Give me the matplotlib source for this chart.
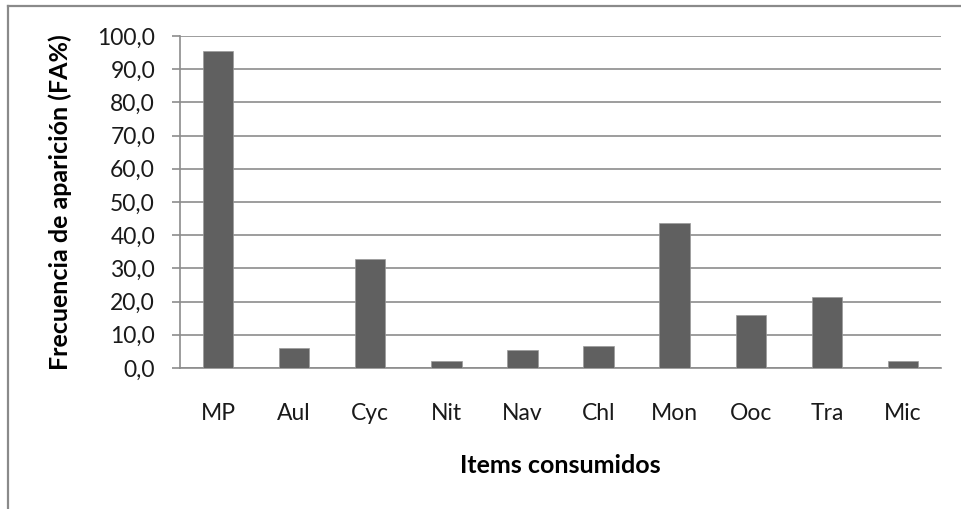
import matplotlib
matplotlib.use("Agg")
import matplotlib.pyplot as plt
from matplotlib.lines import Line2D
from matplotlib.ticker import FuncFormatter, MultipleLocator

# Frequency of occurrence of each consumed item
items = ["MP", "Aul", "Cyc", "Nit", "Nav", "Chl", "Mon", "Ooc", "Tra", "Mic"]
fa_pct = [95.5, 5.9, 32.7, 2.0, 5.5, 6.7, 43.7, 16.1, 21.5, 2.0]

plt.rcParams["font.family"] = ["Lato", "DejaVu Sans"]

W, H = 962, 509
fig = plt.figure(figsize=(W / 100, H / 100), dpi=100)
fig.patch.set_facecolor("white")

# plot area in pixel terms
left, right, top, bottom = 180, 941, 36, 368
ax = fig.add_axes([left / W, (H - bottom) / H, (right - left) / W, (bottom - top) / H])

grid_col = "#8c8c8c"
ax.bar(range(len(items)), fa_pct, width=0.4, color="#606060",
       edgecolor="#9a9a9a", linewidth=0.5, zorder=3)

ax.set_xlim(-0.5, len(items) - 0.5)
ax.set_ylim(0, 100)
ax.yaxis.set_major_locator(MultipleLocator(10))
ax.yaxis.set_major_formatter(FuncFormatter(lambda v, _: f"{v:.1f}".replace(".", ",")))
ax.set_xticks(range(len(items)))
ax.set_xticklabels(items)

ax.grid(axis="y", color=grid_col, linewidth=1.2, zorder=0)
ax.set_axisbelow(True)
for side in ("top", "right"):
    ax.spines[side].set_visible(False)
for side in ("left", "bottom"):
    ax.spines[side].set_color(grid_col)
    ax.spines[side].set_linewidth(1.2)

ax.tick_params(axis="y", direction="out", length=6, width=1.2, color=grid_col,
               pad=12, labelsize=16.5, labelcolor="#1a1a1a")
ax.tick_params(axis="x", length=0, pad=25, labelsize=16.5, labelcolor="#1a1a1a")

ax.set_ylabel("Frecuencia de aparición (FA%)", fontsize=18, fontweight="bold",
              va="center")
ax.yaxis.set_label_coords(-0.158, 0.5)
ax.set_xlabel("Items consumidos", fontsize=18, fontweight="bold", va="center")
ax.xaxis.set_label_coords(0.5, -0.295)

# chart frame (top and left edges)
fig.add_artist(Line2D([8 / W, 1.0], [1 - 6 / H, 1 - 6 / H], transform=fig.transFigure,
                      color="#8a8a8a", linewidth=1.6))
fig.add_artist(Line2D([8 / W, 8 / W], [0, 1 - 6 / H], transform=fig.transFigure,
                      color="#8a8a8a", linewidth=1.6))

fig.savefig("out.png", dpi=100, facecolor="white")
